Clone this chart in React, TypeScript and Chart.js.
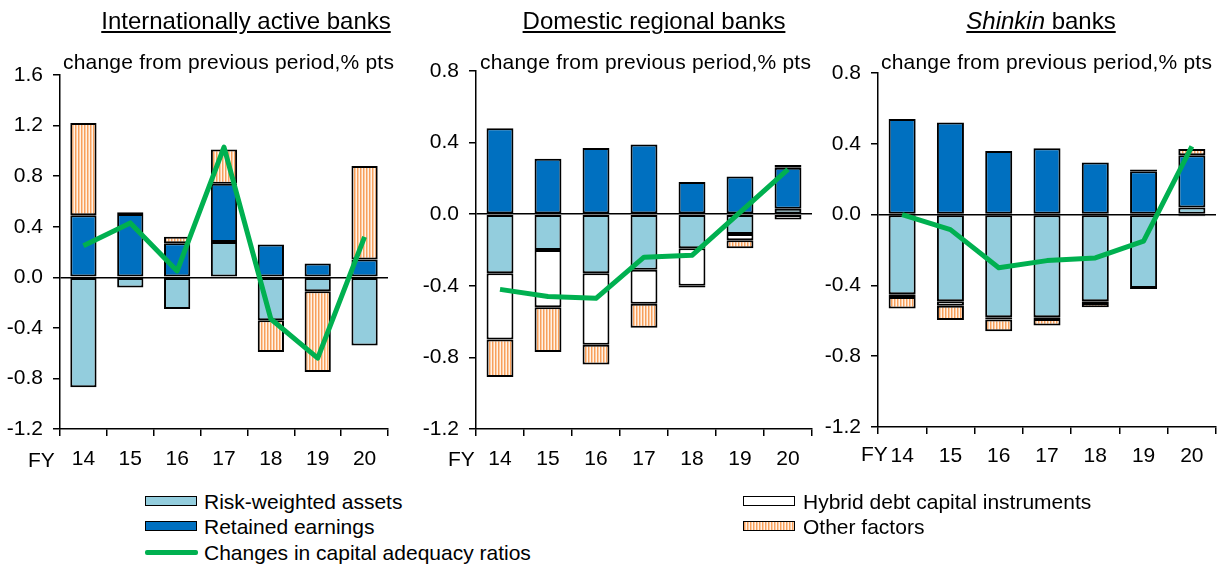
import React, { useEffect, useRef } from 'react';
import { Chart, registerables } from 'chart.js';

Chart.register(...registerables);

const categories = ['14', '15', '16', '17', '18', '19', '20'];

// Internationally active banks
const intlRwa = [-0.87, -0.08, -0.25, 0.28, -0.34, -0.11, -0.54];
const intlRetained = [0.49, 0.5, 0.27, 0.46, 0.26, 0.11, 0.14];
const intlHybrid = [0, 0.015, 0, 0, 0, 0, 0];
const intlOther = [0.73, 0, 0.05, 0.27, -0.25, -0.64, 0.74];
const intlCar = [0.25, 0.43, 0.05, 1.03, -0.33, -0.64, 0.32];

// Domestic regional banks
const regRwa = [-0.33, -0.2, -0.33, -0.31, -0.19, -0.11, 0.03];
const regRetained = [0.48, 0.31, 0.37, 0.39, 0.18, 0.21, 0.23];
const regHybrid = [-0.37, -0.32, -0.4, -0.19, -0.21, -0.035, -0.03];
const regOther = [-0.21, -0.25, -0.11, -0.135, -0.01, -0.045, 0.015];
const regCar = [-0.42, -0.46, -0.47, -0.24, -0.23, 0.01, 0.25];

// Shinkin banks
const shRwa = [-0.45, -0.49, -0.58, -0.58, -0.49, -0.415, 0.04];
const shRetained = [0.54, 0.52, 0.36, 0.375, 0.295, 0.245, 0.295];
const shHybrid = [-0.015, -0.025, -0.012, -0.01, -0.01, 0.01, -0.01];
const shOther = [-0.065, -0.08, -0.067, -0.037, -0.023, -0.005, 0.035];
const shCar = [0.0, -0.085, -0.3, -0.26, -0.245, -0.15, 0.385];

const FONT = '"Liberation Sans", Arial, Helvetica, sans-serif';
const C_RWA = '#93CDDD';
const C_RET = '#0070C0';
const C_HYB = '#FFFFFF';
const C_LINE = '#00B050';

function makeHatch(): CanvasPattern | string {
  const c = document.createElement('canvas');
  c.width = 3;
  c.height = 6;
  const x = c.getContext('2d');
  if (!x) return '#FAC090';
  x.fillStyle = '#FFF2E6';
  x.fillRect(0, 0, 3, 6);
  x.fillStyle = '#F8A05C';
  x.fillRect(0, 0, 1, 6);
  x.fillStyle = '#FBCBA3';
  x.fillRect(1, 0, 1, 6);
  return x.createPattern(c, 'repeat') || '#FAC090';
}

type PanelProps = {
  left: number;
  width: number;
  height: number;
  plotLeft: number;
  plotRight: number;
  plotTop: number;
  plotBottom: number;
  yMax: number;
  labelPad: number;
  rwa: number[];
  retained: number[];
  hybrid: number[];
  other: number[];
  car: number[];
};

function Panel(p: PanelProps) {
  const ref = useRef<HTMLCanvasElement | null>(null);
  useEffect(() => {
    if (!ref.current) return;
    const hatch = makeHatch();
    const yw = p.plotLeft - p.left;
    const xh = p.height - p.plotBottom;
    const padRight = p.left + p.width - p.plotRight;
    const barCommon = {
      borderColor: '#000000',
      borderWidth: 2,
      borderSkipped: false,
      stack: 's',
      order: 1,
      categoryPercentage: 1,
      barPercentage: 0.56,
    };
    const chart = new Chart(ref.current, {
      type: 'bar',
      data: {
        labels: categories,
        datasets: [
          {
            type: 'line',
            label: 'Changes in capital adequacy ratios',
            data: p.car,
            borderColor: C_LINE,
            backgroundColor: C_LINE,
            borderWidth: 5,
            pointRadius: 0,
            fill: false,
            tension: 0,
            order: 0,
            stack: 'line',
            borderJoinStyle: 'round',
          } as any,
          { ...barCommon, label: 'Risk-weighted assets', data: p.rwa, backgroundColor: C_RWA } as any,
          { ...barCommon, label: 'Retained earnings', data: p.retained, backgroundColor: C_RET } as any,
          { ...barCommon, label: 'Hybrid debt capital instruments', data: p.hybrid, backgroundColor: C_HYB } as any,
          { ...barCommon, label: 'Other factors', data: p.other, backgroundColor: hatch } as any,
        ],
      },
      options: {
        animation: false,
        responsive: false,
        maintainAspectRatio: false,
        layout: { padding: { left: 0, right: padRight, top: p.plotTop, bottom: 0 } },
        plugins: {
          legend: { display: false },
          tooltip: { enabled: false },
          title: { display: false },
        },
        scales: {
          x: {
            stacked: true,
            offset: true,
            grid: {
              display: true,
              offset: true,
              drawOnChartArea: false,
              drawTicks: true,
              tickLength: 7,
              tickColor: '#000000',
              color: '#000000',
              lineWidth: 1.5,
            },
            border: { display: true, color: '#000000', width: 1.5 },
            ticks: {
              color: '#000000',
              font: { size: 21, family: FONT },
              padding: p.labelPad,
              maxRotation: 0,
              autoSkip: false,
            },
            afterFit: (s: any) => {
              s.height = xh;
            },
          },
          y: {
            stacked: true,
            min: -1.2,
            max: p.yMax,
            grid: {
              color: (c: any) =>
                c.tick && Math.abs(c.tick.value) < 1e-9 ? '#000000' : 'rgba(0,0,0,0)',
              lineWidth: 1.5,
              tickColor: '#000000',
              tickLength: 7,
              drawTicks: true,
            },
            border: { display: true, color: '#000000', width: 1.5 },
            ticks: {
              stepSize: 0.4,
              color: '#000000',
              font: { size: 21, family: FONT },
              padding: 10,
              callback: (v: any) => Number(v).toFixed(1),
            },
            afterFit: (s: any) => {
              s.width = yw;
            },
          },
        },
      } as any,
    });
    return () => chart.destroy();
  }, []);
  return (
    <canvas
      ref={ref}
      width={p.width}
      height={p.height}
      style={{ position: 'absolute', left: p.left, top: 0, width: p.width, height: p.height }}
    />
  );
}

const textBase: React.CSSProperties = {
  position: 'absolute',
  fontFamily: FONT,
  color: '#000',
  whiteSpace: 'nowrap',
};

function Title({ cx, children }: { cx: number; children: React.ReactNode }) {
  return (
    <div
      style={{
        ...textBase,
        left: cx - 250,
        width: 500,
        top: 7,
        fontSize: 24,
        lineHeight: '28px',
        textAlign: 'center',
      }}
    >
      <span style={{ textDecoration: 'underline' }}>{children}</span>
    </div>
  );
}

function Txt({
  x,
  cy,
  size = 21,
  spacing = 0,
  children,
}: {
  x: number;
  cy: number;
  size?: number;
  spacing?: number;
  children: React.ReactNode;
}) {
  return (
    <div style={{ ...textBase, left: x, top: cy - 12, fontSize: size, lineHeight: '24px', letterSpacing: spacing }}>
      {children}
    </div>
  );
}

function Swatch({ x, y, fill }: { x: number; y: number; fill: string }) {
  const bg =
    fill === 'hatch'
      ? 'repeating-linear-gradient(90deg, #F8A05C 0px, #F8A05C 1px, #FBCBA3 1px, #FBCBA3 2px, #FFF2E6 2px, #FFF2E6 3px)'
      : fill;
  return (
    <div
      style={{
        position: 'absolute',
        left: x,
        top: y,
        width: 52,
        height: 10,
        boxSizing: 'border-box',
        border: '1.5px solid #000',
        background: bg,
      }}
    />
  );
}

export default function App() {
  return (
    <div style={{ position: 'absolute', left: 0, top: 0, width: 1222, height: 564, background: '#fff', overflow: 'hidden' }}>
      <Panel
        left={0}
        width={400}
        height={480}
        plotLeft={60}
        plotRight={388}
        plotTop={75}
        plotBottom={429}
        yMax={1.6}
        labelPad={11}
        rwa={intlRwa}
        retained={intlRetained}
        hybrid={intlHybrid}
        other={intlOther}
        car={intlCar}
      />
      <Panel
        left={405}
        width={410}
        height={480}
        plotLeft={476}
        plotRight={812}
        plotTop={71}
        plotBottom={429}
        yMax={0.8}
        labelPad={11}
        rwa={regRwa}
        retained={regRetained}
        hybrid={regHybrid}
        other={regOther}
        car={regCar}
      />
      <Panel
        left={810}
        width={412}
        height={480}
        plotLeft={878}
        plotRight={1216}
        plotTop={73}
        plotBottom={427}
        yMax={0.8}
        labelPad={10}
        rwa={shRwa}
        retained={shRetained}
        hybrid={shHybrid}
        other={shOther}
        car={shCar}
      />

      <Title cx={246}>Internationally active banks</Title>
      <Title cx={654}>Domestic regional banks</Title>
      <Title cx={1041}>
        <i>Shinkin</i> banks
      </Title>

      <Txt x={63} cy={62} spacing={0.2}>change from previous period,% pts</Txt>
      <Txt x={480} cy={62} spacing={0.2}>change from previous period,% pts</Txt>
      <Txt x={881} cy={62} spacing={0.2}>change from previous period,% pts</Txt>

      <Txt x={28} cy={460}>FY</Txt>
      <Txt x={448} cy={459}>FY</Txt>
      <Txt x={861} cy={454}>FY</Txt>

      <Swatch x={145} y={496} fill={C_RWA} />
      <Txt x={204} cy={502}>Risk-weighted assets</Txt>
      <Swatch x={145} y={521} fill={C_RET} />
      <Txt x={204} cy={527}>Retained earnings</Txt>
      <div style={{ position: 'absolute', left: 145, top: 550, width: 53, height: 5, background: C_LINE, borderRadius: 2 }} />
      <Txt x={204} cy={553}>Changes in capital adequacy ratios</Txt>

      <Swatch x={743} y={496} fill={C_HYB} />
      <Txt x={803} cy={502}>Hybrid debt capital instruments</Txt>
      <Swatch x={743} y={521} fill="hatch" />
      <Txt x={803} cy={527}>Other factors</Txt>
    </div>
  );
}
